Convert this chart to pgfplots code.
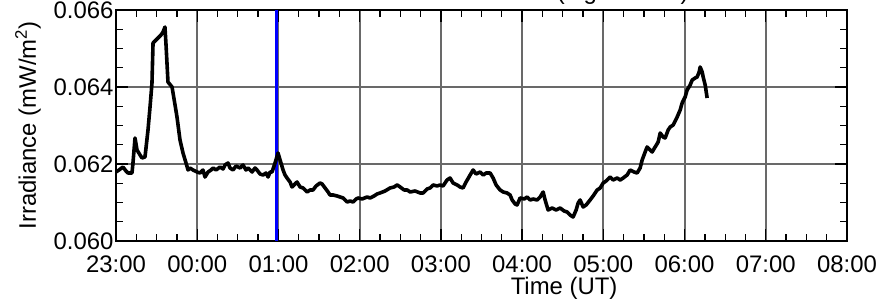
\documentclass[border=0pt]{standalone}
\usepackage{pgfplots}
\pgfplotsset{compat=1.18}
\usepackage{fontspec}
\setmainfont{Liberation Sans}
\definecolor{gridgray}{RGB}{105,105,105}
\begin{document}
\begin{tikzpicture}[font=\fontsize{24}{28}\selectfont]
\begin{axis}[
  name=ax,
  scale only axis,
  width=731bp, height=231bp,
  xmin=0, xmax=9, ymin=0.060, ymax=0.066,
  xtick={0,1,2,3,4,5,6,7,8,9},
  xticklabels={23:00,00:00,01:00,02:00,03:00,04:00,05:00,06:00,07:00,08:00},
  ytick={0.060,0.062,0.064,0.066},
  yticklabels={0.060,0.062,0.064,0.066},
  minor x tick num=3,
  minor y tick num=3,
  tick align=inside,
  major tick length=12bp,
  minor tick length=7bp,
  every tick/.style={black, line width=1.3bp},
  axis line style={black, line width=2.2bp},
  grid=major,
  major grid style={gridgray, line width=2bp},
  xticklabel style={anchor=base, yshift=-32bp},
  yticklabel style={anchor=east, xshift=1bp},
  scaled y ticks=false,
  xlabel={Time (UT)},
  ylabel={Irradiance (mW/m\textsuperscript{2})},
  every axis x label/.style={at={(axis description cs:0.613,0)}, anchor=base, yshift=-54bp},
  every axis y label/.style={at={(axis description cs:0,0.5)}, xshift=-88bp, rotate=90, anchor=center},
]
\addplot[blue, line width=3bp] coordinates {(1.97,0.060) (1.97,0.066)};
\addplot[black, line width=3.6bp, line join=round] coordinates {
(0,0.061792) (0.037,0.061844) (0.086,0.061922) (0.123,0.061818) (0.148,0.061766)
(0.197,0.061766) (0.209,0.062026) (0.234,0.062675) (0.259,0.062364) (0.296,0.062234)
(0.320,0.062156) (0.357,0.062182) (0.394,0.062883) (0.419,0.063481) (0.443,0.064104)
(0.456,0.065143) (0.493,0.065221) (0.517,0.065273) (0.554,0.065351) (0.579,0.065429)
(0.603,0.065558) (0.616,0.065091) (0.640,0.064130) (0.690,0.064000) (0.727,0.063532)
(0.751,0.063221) (0.788,0.062623) (0.825,0.062286) (0.862,0.062026) (0.887,0.061844)
(0.911,0.061896) (0.948,0.061844) (0.998,0.061792) (1.034,0.061766) (1.071,0.061844)
(1.096,0.061662) (1.133,0.061792) (1.170,0.061844) (1.195,0.061896) (1.232,0.061844)
(1.281,0.061922) (1.318,0.061870) (1.342,0.061974) (1.379,0.062026) (1.404,0.061896)
(1.441,0.061844) (1.478,0.061948) (1.527,0.061896) (1.564,0.061974) (1.601,0.061844)
(1.626,0.061896) (1.675,0.061792) (1.712,0.061896) (1.736,0.061844) (1.773,0.061740)
(1.810,0.061714) (1.847,0.061766) (1.872,0.061662) (1.897,0.061792) (1.921,0.061792)
(1.958,0.062026) (1.995,0.062286) (2.020,0.062104) (2.057,0.061844) (2.081,0.061714)
(2.106,0.061636) (2.143,0.061532) (2.167,0.061403) (2.204,0.061481) (2.229,0.061532)
(2.266,0.061403) (2.303,0.061377) (2.352,0.061273) (2.389,0.061325) (2.426,0.061325)
(2.463,0.061429) (2.512,0.061506) (2.537,0.061481) (2.574,0.061377) (2.611,0.061273)
(2.635,0.061195) (2.672,0.061195) (2.722,0.061169) (2.759,0.061143) (2.796,0.061117)
(2.845,0.061013) (2.882,0.061039) (2.919,0.061013) (2.956,0.061091) (2.980,0.061117)
(3.030,0.061091) (3.091,0.061143) (3.128,0.061117) (3.177,0.061169) (3.214,0.061221)
(3.251,0.061247) (3.313,0.061299) (3.374,0.061377) (3.424,0.061403) (3.461,0.061455)
(3.498,0.061403) (3.547,0.061325) (3.584,0.061325) (3.621,0.061273) (3.682,0.061299)
(3.744,0.061247) (3.781,0.061247) (3.830,0.061351) (3.867,0.061377) (3.904,0.061455)
(3.953,0.061429) (3.990,0.061455) (4.027,0.061429) (4.076,0.061584) (4.113,0.061636)
(4.150,0.061506) (4.200,0.061455) (4.236,0.061403) (4.273,0.061377) (4.310,0.061532)
(4.360,0.061714) (4.397,0.061844) (4.433,0.061740) (4.483,0.061792) (4.520,0.061714)
(4.557,0.061766) (4.606,0.061766) (4.643,0.061636) (4.680,0.061455) (4.729,0.061325)
(4.766,0.061273) (4.815,0.061247) (4.852,0.061195) (4.877,0.061065) (4.914,0.060961)
(4.938,0.060935) (4.975,0.061117) (5.025,0.061091) (5.062,0.061143) (5.099,0.061065)
(5.135,0.061091) (5.185,0.061065) (5.222,0.061143) (5.259,0.061273) (5.283,0.061065)
(5.320,0.060805) (5.369,0.060857) (5.419,0.060805) (5.468,0.060857) (5.517,0.060779)
(5.554,0.060753) (5.591,0.060675) (5.628,0.060623) (5.665,0.060805) (5.690,0.060987)
(5.714,0.061065) (5.751,0.060883) (5.788,0.060935) (5.837,0.061065) (5.874,0.061169)
(5.924,0.061325) (5.961,0.061377) (5.998,0.061506) (6.034,0.061558) (6.084,0.061662)
(6.121,0.061584) (6.170,0.061636) (6.207,0.061584) (6.244,0.061636) (6.293,0.061714)
(6.330,0.061844) (6.379,0.061792) (6.416,0.061766) (6.453,0.061896) (6.478,0.062104)
(6.515,0.062312) (6.539,0.062442) (6.576,0.062364) (6.601,0.062312) (6.638,0.062442)
(6.675,0.062571) (6.700,0.062805) (6.736,0.062701) (6.761,0.062675) (6.798,0.062883)
(6.823,0.062961) (6.860,0.063013) (6.909,0.063221) (6.946,0.063403) (6.970,0.063584)
(7.007,0.063740) (7.032,0.063922) (7.069,0.064052) (7.094,0.064182) (7.131,0.064234)
(7.155,0.064260) (7.180,0.064390) (7.192,0.064519) (7.217,0.064390) (7.229,0.064260)
(7.254,0.064052) (7.278,0.063714)
};
\end{axis}
\node[anchor=base east] at ([xshift=576bp,yshift=10bp]ax.north west) {(logarithmic)};
\pgfresetboundingbox
\useasboundingbox ([xshift=-116bp,yshift=-62bp]ax.south west) rectangle ([xshift=38bp,yshift=10bp]ax.north east);
\end{tikzpicture}
\end{document}
